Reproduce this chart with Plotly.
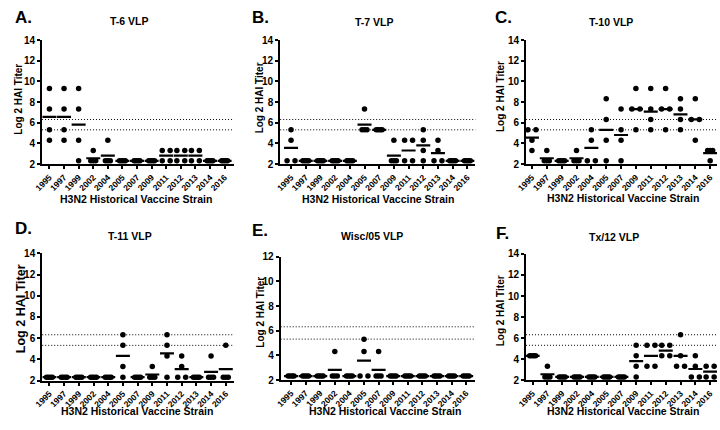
import numpy as np
import plotly.graph_objects as go
from collections import Counter

# ---------------- data ----------------
strains = ["1995", "1997", "1999", "2002", "2004", "2005", "2007",
           "2009", "2011", "2012", "2013", "2014", "2016"]
panel_letters = ["A.", "B.", "C.", "D.", "E.", "F."]
panel_titles = ["T-6 VLP", "T-7 VLP", "T-10 VLP", "T-11 VLP", "Wisc/05 VLP", "Tx/12 VLP"]
y_tops = [14, 14, 14, 14, 12, 14]
threshold_lines = [5.32, 6.32]

t6 = [[9.32, 7.32, 5.32, 4.32], [9.32, 7.32, 5.32, 4.32], [9.32, 7.32, 4.32, 2.32],
      [3.32, 2.32, 2.32, 2.32], [4.32, 2.32, 2.32, 2.32], [2.32, 2.32, 2.32, 2.32],
      [2.32, 2.32, 2.32, 2.32], [2.32, 2.32, 2.32, 2.32], [3.32, 3.32, 2.32, 2.32],
      [3.32, 3.32, 2.32, 2.32], [3.32, 3.32, 2.32, 2.32], [2.32, 2.32, 2.32, 2.32],
      [2.32, 2.32, 2.32, 2.32]]
t7 = [[5.32, 4.32, 2.32, 2.32], [2.32, 2.32, 2.32, 2.32], [2.32, 2.32, 2.32, 2.32],
      [2.32, 2.32, 2.32, 2.32], [2.32, 2.32, 2.32, 2.32], [7.32, 5.32, 5.32, 5.32],
      [5.32, 5.32, 5.32, 5.32], [4.32, 2.32, 2.32, 2.32], [4.32, 4.32, 2.32, 2.32],
      [5.32, 4.32, 3.32, 2.32], [4.32, 3.32, 2.32, 2.32], [2.32, 2.32, 2.32, 2.32],
      [2.32, 2.32, 2.32, 2.32]]
t10 = [[5.32, 5.32, 4.32, 3.32], [3.32, 2.32, 2.32, 2.32], [2.32, 2.32, 2.32, 2.32],
       [3.32, 2.32, 2.32, 2.32], [5.32, 4.32, 2.32, 2.32], [8.32, 6.32, 4.32, 2.32],
       [7.32, 5.32, 4.32, 2.32], [9.32, 7.32, 7.32, 5.32], [9.32, 7.32, 6.32, 5.32],
       [9.32, 7.32, 7.32, 5.32], [8.32, 7.32, 6.32, 5.32], [8.32, 6.32, 6.32, 4.32],
       [3.32, 3.32, 3.32, 2.32]]
t11 = [[2.32, 2.32, 2.32, 2.32], [2.32, 2.32, 2.32, 2.32], [2.32, 2.32, 2.32, 2.32],
       [2.32, 2.32, 2.32, 2.32], [2.32, 2.32, 2.32, 2.32], [6.32, 5.32, 3.32, 2.32],
       [2.32, 2.32, 2.32, 2.32], [3.32, 2.32, 2.32, 2.32], [6.32, 5.32, 4.32, 2.32],
       [4.32, 3.32, 2.32, 2.32], [2.32, 2.32, 2.32, 2.32], [4.32, 2.32, 2.32, 2.32],
       [5.32, 2.32, 2.32, 2.32]]
wisc05 = [[2.32, 2.32, 2.32, 2.32], [2.32, 2.32, 2.32, 2.32], [2.32, 2.32, 2.32, 2.32],
          [4.32, 2.32, 2.32, 2.32], [2.32, 2.32, 2.32, 2.32], [5.32, 4.32, 2.32, 2.32],
          [4.32, 2.32, 2.32, 2.32], [2.32, 2.32, 2.32, 2.32], [2.32, 2.32, 2.32, 2.32],
          [2.32, 2.32, 2.32, 2.32], [2.32, 2.32, 2.32, 2.32], [2.32, 2.32, 2.32, 2.32],
          [2.32, 2.32, 2.32, 2.32]]
tx12 = [[4.32, 4.32, 4.32, 4.32], [3.32, 2.32, 2.32, 2.32], [2.32, 2.32, 2.32, 2.32],
        [2.32, 2.32, 2.32, 2.32], [2.32, 2.32, 2.32, 2.32], [2.32, 2.32, 2.32, 2.32],
        [2.32, 2.32, 2.32, 2.32], [5.32, 4.32, 3.32, 2.32], [5.32, 5.32, 3.32, 3.32],
        [5.32, 5.32, 4.32, 4.32], [6.32, 4.32, 3.32, 3.32], [4.32, 3.32, 2.32, 2.32],
        [3.32, 3.32, 2.32, 2.32]]
panels_data = [t6, t7, t10, t11, wisc05, tx12]

# ---------------- layout geometry (pixels in a 720x430 canvas) ----------------
W, H = 720, 430
# (axis left px, axis right px, first category px, spacing px, top px, bottom px)
geom = [
    (32.5, 227, 40.0, 14.8, 35, 162.7),
    (274, 472, 285.0, 14.9, 35, 162.7),
    (523.3, 717, 529.3, 15.06, 35, 162.7),
    (32.7, 227, 40.0, 14.9, 254.5, 385.3),
    (274.5, 472, 285.0, 14.8, 258, 384.8),
    (523.3, 717, 530.0, 15.0, 255, 385.0),
]
letter_pos = [(3, 12), (243, 12), (490, 12), (3, 229), (243, 231), (491, 234)]
title_pos = [(121, 15.5), (370, 16), (609, 16), (122, 237), (367, 236.5), (612, 238)]
xtitle_pos = [(127.5, 199), (373, 199), (622, 197.5), (129, 417), (380, 416.5), (622, 416.5)]
ytitle_pos = [(8.5, 96), (252.5, 94), (497.5, 93), (11, 311), (254, 315), (497, 314)]
ytitle_size = [10, 10, 10, 12.5, 10, 10]

offsets_by_n = {1: [0.0], 2: [-0.27, 0.27], 3: [-0.17, 0.0, 0.17],
                4: [-0.2, -0.067, 0.067, 0.2]}

FONT = "Liberation Sans, Arial, sans-serif"

fig = go.Figure()
annotations = []
shapes = []

for p, data in enumerate(panels_data):
    ax_id = "" if p == 0 else str(p + 1)
    xa, ya = "x" + ax_id, "y" + ax_id
    left, right, first, sp, top, bottom = geom[p]
    x0 = (left - first) / sp
    x1 = x0 + (right - left) / sp

    xs, ys, mx, my = [], [], [], []
    for i, vals in enumerate(data):
        cnt = Counter(vals)
        for v, n in cnt.items():
            for off in offsets_by_n[n]:
                xs.append(i + off)
                ys.append(v)
        mx.append(i)
        my.append(float(np.mean(vals)))

    fig.add_trace(go.Scatter(x=xs, y=ys, mode="markers", xaxis=xa, yaxis=ya,
                             marker=dict(color="black", size=5.5, line=dict(width=0)),
                             showlegend=False, hoverinfo="skip"))
    fig.add_trace(go.Scatter(x=mx, y=my, mode="markers", xaxis=xa, yaxis=ya,
                             marker=dict(symbol="line-ew", size=10, color="black",
                                         line=dict(width=2.2, color="black")),
                             showlegend=False, hoverinfo="skip"))

    for t in threshold_lines:
        shapes.append(dict(type="line", xref=xa + " domain", x0=0, x1=1,
                           yref=ya, y0=t, y1=t, layer="below",
                           line=dict(color="black", width=1, dash="1px,2px")))

    axis_common = dict(showline=True, linewidth=2, linecolor="black", ticks="outside",
                       ticklen=4, tickwidth=2, tickcolor="black", showgrid=False,
                       zeroline=False, fixedrange=True)
    fig.layout["xaxis" + ax_id] = dict(
        axis_common, domain=[left / W, right / W], anchor=ya,
        range=[x0, x1], tickmode="array", tickvals=list(range(len(strains))),
        ticktext=strains, tickangle=-45, ticklen=3,
        tickfont=dict(family=FONT, size=8.5, color="black", weight="bold"))
    fig.layout["yaxis" + ax_id] = dict(
        axis_common, domain=[1 - bottom / H, 1 - top / H], anchor=xa,
        range=[2, y_tops[p]], tick0=2, dtick=2, ticklen=3,
        tickfont=dict(family=FONT, size=10, color="black", weight="bold"))

    lx, ly = letter_pos[p]
    annotations.append(dict(text="<b>" + panel_letters[p] + "</b>", x=lx / W, y=1 - ly / H,
                            xref="paper", yref="paper", xanchor="left", yanchor="middle",
                            showarrow=False, font=dict(family=FONT, size=17, color="black")))
    tx, ty = title_pos[p]
    annotations.append(dict(text="<b>" + panel_titles[p] + "</b>", x=tx / W, y=1 - ty / H,
                            xref="paper", yref="paper", xanchor="center", yanchor="middle",
                            showarrow=False, font=dict(family=FONT, size=10.5, color="black")))
    hx, hy = xtitle_pos[p]
    annotations.append(dict(text="<b>H3N2 Historical Vaccine Strain</b>", x=hx / W, y=1 - hy / H,
                            xref="paper", yref="paper", xanchor="center", yanchor="middle",
                            showarrow=False, font=dict(family=FONT, size=10.5, color="black")))
    vx, vy = ytitle_pos[p]
    annotations.append(dict(text="<b>Log 2 HAI Titer</b>", x=vx / W, y=1 - vy / H,
                            xref="paper", yref="paper", xanchor="center", yanchor="middle",
                            textangle=-90, showarrow=False,
                            font=dict(family=FONT, size=ytitle_size[p], color="black")))

fig.update_layout(width=W, height=H, margin=dict(l=0, r=0, t=0, b=0),
                  paper_bgcolor="white", plot_bgcolor="white",
                  annotations=annotations, shapes=shapes, showlegend=False)

fig.write_html("out.html", config={"displayModeBar": False},
               post_script="document.body.style.margin='0';document.body.style.padding='0';")
